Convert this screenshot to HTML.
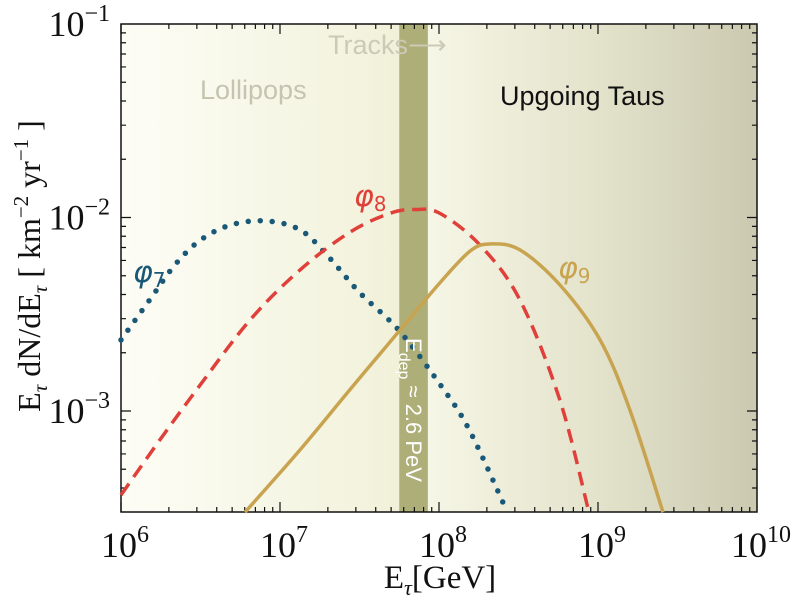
<!DOCTYPE html>
<html><head><meta charset="utf-8"><style>
html,body{margin:0;padding:0;background:#fff;}
svg{display:block;}
</style></head><body>
<svg id="chart" width="793" height="600" xmlns="http://www.w3.org/2000/svg">
<defs>
<linearGradient id="gl" x1="0" x2="1" y1="0" y2="0">
<stop offset="0" stop-color="#fdfdf6"/><stop offset="1" stop-color="#f1f1da"/></linearGradient>
<linearGradient id="gr" x1="0" x2="1" y1="0" y2="0">
<stop offset="0" stop-color="#f6f6e6"/><stop offset="0.5" stop-color="#e4e3cc"/><stop offset="1" stop-color="#cbc9b0"/></linearGradient>
</defs>
<g id="bg"></g>
<g id="grid"></g>
<g id="series"></g>
<g id="labels"></g>
</svg>
<script>
const xTicks=[6,7,8,9,10];
const yTicks=[-1,-2,-3];
const bandRange=[7.75,7.93];
const phi7E=[6,6.18,6.34,6.5,6.69,6.91,7.13,7.31,7.5,7.75,8.01,8.19,8.43];
const phi7V=[2.33e-3,3.75e-3,5.7e-3,7.65e-3,9.15e-3,9.6e-3,8.6e-3,6.2e-3,4.1e-3,2.6e-3,1.36e-3,8.0e-4,3.0e-4];
const phi8E=[6,6.245,6.497,6.811,7.126,7.44,7.69,7.85,8.006,8.258,8.509,8.76,8.943];
const phi8V=[3.68e-4,7.1e-4,1.36e-3,2.95e-3,5.36e-3,8.4e-3,1.05e-2,1.1e-2,1.05e-2,7.2e-3,3.75e-3,1.14e-3,3.0e-4];
const phi9E=[6.78,7.126,7.44,7.755,8.006,8.195,8.321,8.509,8.761,9.013,9.201,9.409];
const phi9V=[3.0e-4,6.3e-4,1.29e-3,2.62e-3,4.6e-3,6.7e-3,7.3e-3,6.8e-3,4.48e-3,2.33e-3,1.01e-3,3.0e-4];

const L=121,R=757,T=24,B=512;
const X=e=>L+(e-6)*(R-L)/4;
const Y=v=>T+(-1-Math.log10(v))*193.5;
const NS="http://www.w3.org/2000/svg";
function mk(tag,parent,attrs){const el=document.createElementNS(NS,tag);for(const k in attrs)el.setAttribute(k,attrs[k]);parent.appendChild(el);return el;}
const bg=document.getElementById('bg'),grid=document.getElementById('grid'),ser=document.getElementById('series');

let r=mk('rect',bg,{x:L,y:T,width:X(bandRange[0])-L,height:B-T,fill:'url(#gl)'});


r=mk('rect',bg,{x:X(bandRange[1]),y:T,width:R-X(bandRange[1]),height:B-T,fill:'url(#gr)'});


r=mk('rect',bg,{x:X(bandRange[0]),y:T,width:X(bandRange[1])-X(bandRange[0]),height:B-T,fill:'#aeae78'});



r=mk('rect',grid,{x:L,y:T,width:R-L,height:B-T,fill:'none',stroke:'#111','stroke-width':1.5});


let d='';
for(let dec=6;dec<10;dec++){for(let m=1;m<10;m++){const x=X(dec+Math.log10(m));const len=m==1?10:5;d+=`M${x},${B}v${-len}M${x},${T}v${len}`;}}
for(let dec=-4;dec<-1;dec++){for(let m=1;m<10;m++){const v=m*Math.pow(10,dec);const y=Y(v);if(y>B||y<T)continue;const len=m==1?10:5;d+=`M${L},${y}h${len}M${R},${y}h${-len}`;}}
const tp=mk('path',grid,{d:d,stroke:'#111','stroke-width':1.2,fill:'none'});


xTicks.forEach(e=>{const t=mk('text',grid,{x:X(e)+4,y:557,'text-anchor':'middle','font-family':'Liberation Serif, serif','font-size':36,fill:'#111'});


t.innerHTML=`10<tspan dy="-15" font-size="24">${e}</tspan>`;});
yTicks.forEach(p=>{const t=mk('text',grid,{x:110,y:Y(Math.pow(10,p))+12,'text-anchor':'end','font-family':'Liberation Serif, serif','font-size':36,fill:'#111'});


t.innerHTML=`10<tspan dy="-15" font-size="24">${'\u2212'+(-p)}</tspan>`;});

function curve(E,V){const p=E.map((e,i)=>[X(e),Y(V[i])]);let s=`M${p[0][0]},${p[0][1]}`;
for(let i=0;i<p.length-1;i++){const p0=p[i-1]||p[i],p1=p[i],p2=p[i+1],p3=p[i+2]||p2;
s+=`C${p1[0]+(p2[0]-p0[0])/6},${p1[1]+(p2[1]-p0[1])/6} ${p2[0]-(p3[0]-p1[0])/6},${p2[1]-(p3[1]-p1[1])/6} ${p2[0]},${p2[1]}`;}return s;}
let c=mk('path',ser,{d:curve(phi7E,phi7V),fill:'none',stroke:'#1a5878','stroke-width':5.5,'stroke-linecap':'round','stroke-dasharray':'0 12'});


c=mk('path',ser,{d:curve(phi8E,phi8V),fill:'none',stroke:'#e0403a','stroke-width':3.5,'stroke-dasharray':'14 8'});


c=mk('path',ser,{d:curve(phi9E,phi9V),fill:'none',stroke:'#c9a450','stroke-width':3.5});


</script>
<script>
(function(){
const lab=document.getElementById('labels');
lab.innerHTML=`
<text x="328" y="54" font-family="Liberation Sans, sans-serif" font-size="27" fill="#cacab6">Tracks⟶</text>
<text x="200" y="99" font-family="Liberation Sans, sans-serif" font-size="27" fill="#c4c4b0">Lollipops</text>
<text x="500" y="105" font-family="Liberation Sans, sans-serif" font-size="27" fill="#111">Upgoing Taus</text>
<text x="133" y="282" font-family="DejaVu Sans, sans-serif" font-size="30" font-style="italic" fill="#1a5878">φ<tspan font-size="20" dy="5" font-style="normal">7</tspan></text>
<text x="354" y="206" font-family="DejaVu Sans, sans-serif" font-size="30" font-style="italic" fill="#e0403a">φ<tspan font-size="20" dy="5" font-style="normal">8</tspan></text>
<text x="558" y="278" font-family="DejaVu Sans, sans-serif" font-size="30" font-style="italic" fill="#c9a450">φ<tspan font-size="20" dy="5" font-style="normal">9</tspan></text>
<text transform="translate(406,338) rotate(90)" font-family="Liberation Sans, sans-serif" font-size="22" fill="#fff">E<tspan font-size="16" dy="7">dep</tspan><tspan dy="-7"> ≈ 2.6 PeV</tspan></text>
<text x="440" y="588" text-anchor="middle" font-family="Liberation Serif, serif" font-size="33" fill="#111">E<tspan font-size="22" dy="7" font-style="italic">τ</tspan><tspan dy="-7">[GeV]</tspan></text>
<text transform="translate(40,266) rotate(-90)" text-anchor="middle" font-family="Liberation Serif, serif" font-size="32" fill="#111">E<tspan font-size="21" dy="7" font-style="italic">τ</tspan><tspan dy="-7"> dN/dE</tspan><tspan font-size="21" dy="7" font-style="italic">τ</tspan><tspan dy="-7">  [ km</tspan><tspan font-size="21" dy="-12">−2</tspan><tspan dy="12"> yr</tspan><tspan font-size="21" dy="-12">−1</tspan><tspan dy="12"> ]</tspan></text>`;
})();
</script>
</body></html>
